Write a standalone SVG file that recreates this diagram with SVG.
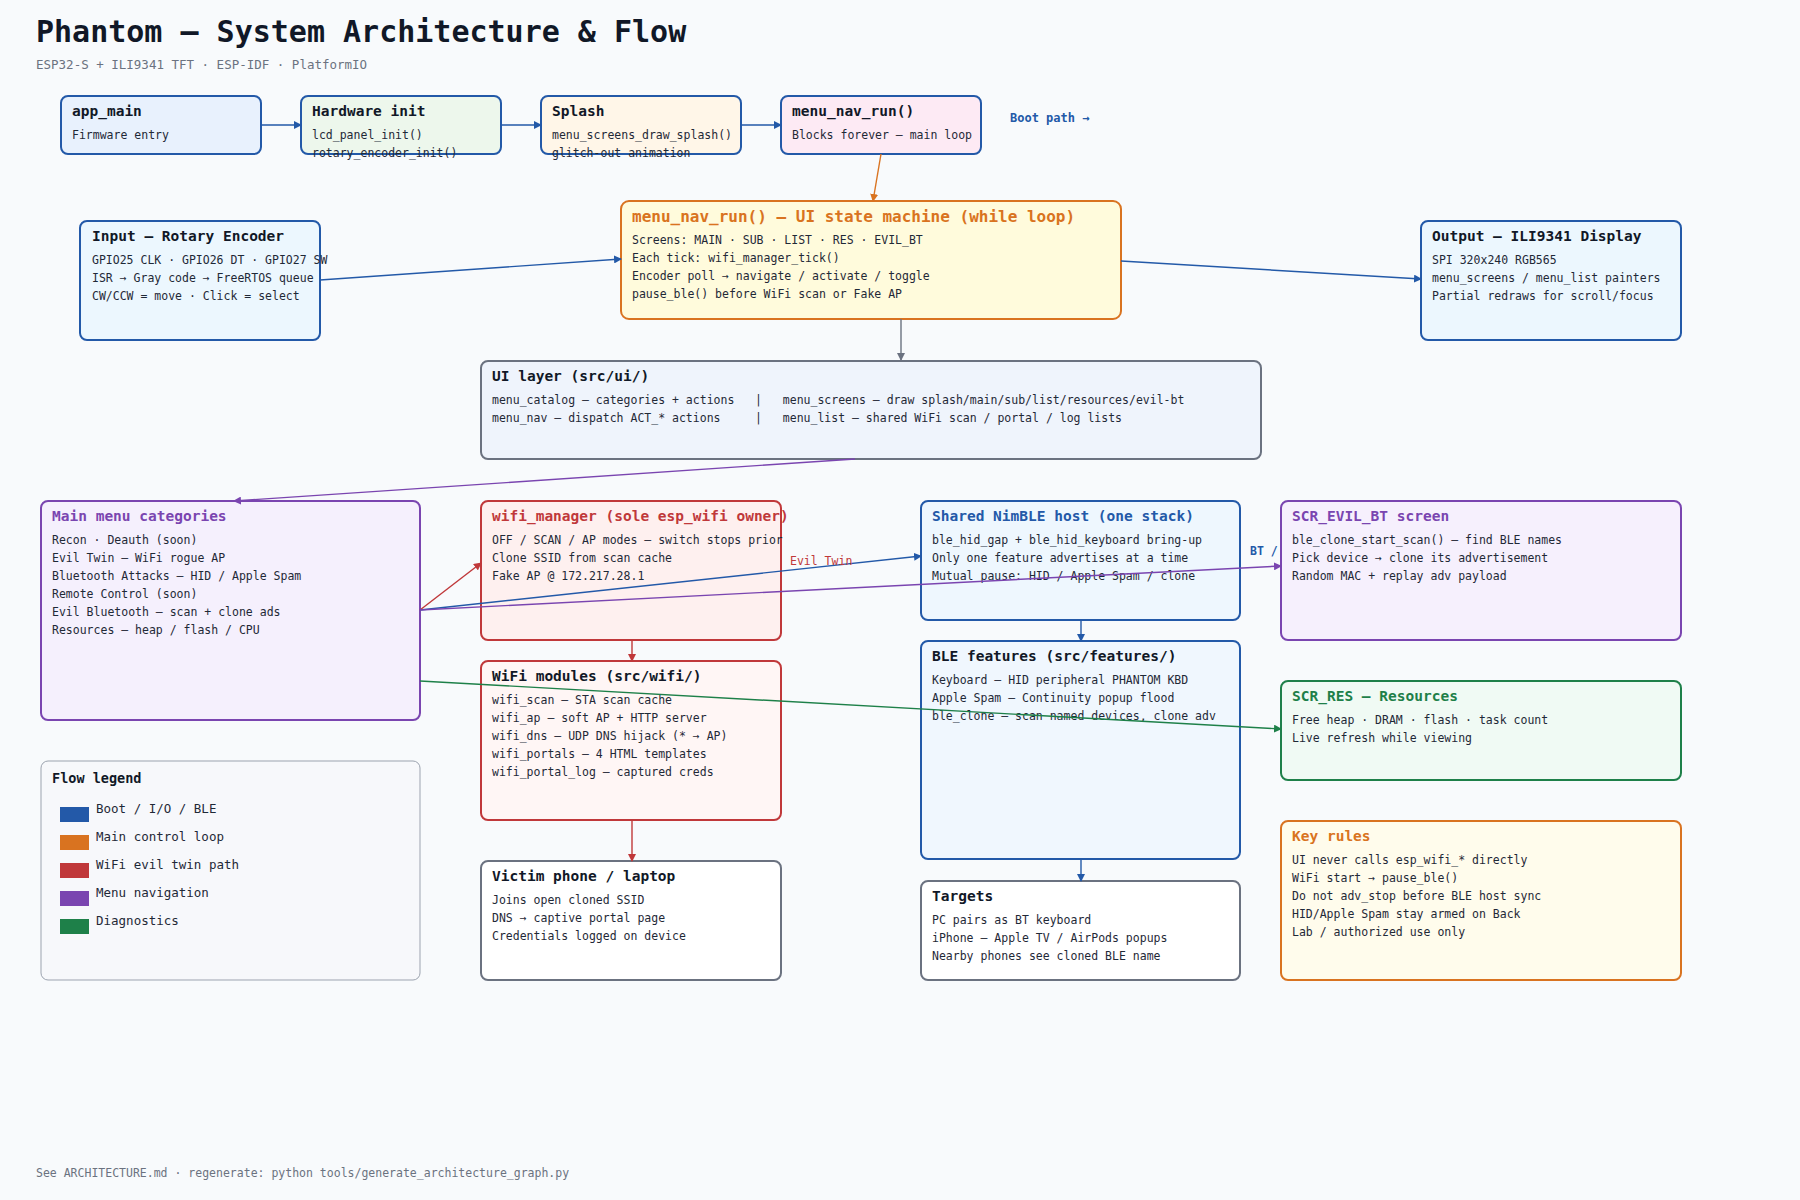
<svg xmlns="http://www.w3.org/2000/svg" width="1800" height="1200" viewBox="0 0 1800 1200">
<defs>
<style>
text{font-family:"DejaVu Sans Mono","Liberation Mono",monospace;fill:#1f2937}
.t{font-size:14.5px;font-weight:bold;fill:#111827}
.b{font-size:11.5px;fill:#1f2937}
.box{stroke-width:2}
.c{fill:none;stroke-width:1.4}
</style>
<marker id="ab" markerWidth="8" markerHeight="8" refX="7" refY="4" orient="auto" markerUnits="userSpaceOnUse"><path d="M0,0 L8,4 L0,8 z" fill="#2359a8"/></marker>
<marker id="ao" markerWidth="8" markerHeight="8" refX="7" refY="4" orient="auto" markerUnits="userSpaceOnUse"><path d="M0,0 L8,4 L0,8 z" fill="#d97320"/></marker>
<marker id="ar" markerWidth="8" markerHeight="8" refX="7" refY="4" orient="auto" markerUnits="userSpaceOnUse"><path d="M0,0 L8,4 L0,8 z" fill="#c0383a"/></marker>
<marker id="ap" markerWidth="8" markerHeight="8" refX="7" refY="4" orient="auto" markerUnits="userSpaceOnUse"><path d="M0,0 L8,4 L0,8 z" fill="#7a45b0"/></marker>
<marker id="ag" markerWidth="8" markerHeight="8" refX="7" refY="4" orient="auto" markerUnits="userSpaceOnUse"><path d="M0,0 L8,4 L0,8 z" fill="#1e8049"/></marker>
<marker id="ay" markerWidth="8" markerHeight="8" refX="7" refY="4" orient="auto" markerUnits="userSpaceOnUse"><path d="M0,0 L8,4 L0,8 z" fill="#6b7280"/></marker>
</defs>
<rect width="1800" height="1200" fill="#f8fafc"/>
<text x="36" y="42" style="font-size:30px;font-weight:bold;fill:#111827">Phantom — System Architecture &amp; Flow</text>
<text x="36" y="69" style="font-size:12.5px;fill:#6b7280">ESP32-S + ILI9341 TFT · ESP-IDF · PlatformIO</text>

<g id="app_main"><rect class="box" x="61" y="96" width="200" height="58" rx="7" fill="#e8f1fd" stroke="#2359a8"/>
<text class="t" x="72" y="116">app_main</text><text class="b" x="72" y="139">Firmware entry</text></g>
<g id="hw_init"><rect class="box" x="301" y="96" width="200" height="58" rx="7" fill="#edf7ec" stroke="#2359a8"/>
<text class="t" x="312" y="116">Hardware init</text><text class="b" x="312" y="139">lcd_panel_init()</text><text class="b" x="312" y="157">rotary_encoder_init()</text></g>
<g id="splash"><rect class="box" x="541" y="96" width="200" height="58" rx="7" fill="#fff6e8" stroke="#2359a8"/>
<text class="t" x="552" y="116">Splash</text><text class="b" x="552" y="139">menu_screens_draw_splash()</text><text class="b" x="552" y="157">glitch-out animation</text></g>
<g id="menu_nav_run"><rect class="box" x="781" y="96" width="200" height="58" rx="7" fill="#fdeaf4" stroke="#2359a8"/>
<text class="t" x="792" y="116">menu_nav_run()</text><text class="b" x="792" y="139">Blocks forever — main loop</text></g>

<g id="state_machine"><rect class="box" x="621" y="201" width="500" height="118" rx="8" fill="#fffbdc" stroke="#d97320"/>
<text x="632" y="222" style="font-size:16px;font-weight:bold;fill:#d97320">menu_nav_run() — UI state machine (while loop)</text>
<text class="b" x="632" y="244">Screens: MAIN · SUB · LIST · RES · EVIL_BT</text>
<text class="b" x="632" y="262">Each tick: wifi_manager_tick()</text>
<text class="b" x="632" y="280">Encoder poll → navigate / activate / toggle</text>
<text class="b" x="632" y="298">pause_ble() before WiFi scan or Fake AP</text></g>

<g id="input"><rect class="box" x="80" y="221" width="240" height="119" rx="7" fill="#ecf7fe" stroke="#2359a8"/>
<text class="t" x="92" y="241">Input — Rotary Encoder</text>
<text class="b" x="92" y="264">GPIO25 CLK · GPIO26 DT · GPIO27 SW</text>
<text class="b" x="92" y="282">ISR → Gray code → FreeRTOS queue</text>
<text class="b" x="92" y="300">CW/CCW = move · Click = select</text></g>

<g id="output"><rect class="box" x="1421" y="221" width="260" height="119" rx="7" fill="#ecf7fe" stroke="#2359a8"/>
<text class="t" x="1432" y="241">Output — ILI9341 Display</text>
<text class="b" x="1432" y="264">SPI 320x240 RGB565</text>
<text class="b" x="1432" y="282">menu_screens / menu_list painters</text>
<text class="b" x="1432" y="300">Partial redraws for scroll/focus</text></g>

<g id="ui_layer"><rect class="box" x="481" y="361" width="780" height="98" rx="7" fill="#eff4fc" stroke="#6b7280"/>
<text class="t" x="492" y="381">UI layer (src/ui/)</text>
<text class="b" x="492" y="404" xml:space="preserve">menu_catalog — categories + actions   |   menu_screens — draw splash/main/sub/list/resources/evil-bt</text>
<text class="b" x="492" y="422" xml:space="preserve">menu_nav — dispatch ACT_* actions     |   menu_list — shared WiFi scan / portal / log lists</text></g>

<g id="main_menu"><rect class="box" x="41" y="501" width="379" height="219" rx="7" fill="#f5f0fd" stroke="#7a45b0"/>
<text class="t" x="52" y="521" style="fill:#7a45b0">Main menu categories</text>
<text class="b" x="52" y="544">Recon · Deauth (soon)</text>
<text class="b" x="52" y="562">Evil Twin — WiFi rogue AP</text>
<text class="b" x="52" y="580">Bluetooth Attacks — HID / Apple Spam</text>
<text class="b" x="52" y="598">Remote Control (soon)</text>
<text class="b" x="52" y="616">Evil Bluetooth — scan + clone ads</text>
<text class="b" x="52" y="634">Resources — heap / flash / CPU</text></g>

<g id="wifi_manager"><rect class="box" x="481" y="501" width="300" height="139" rx="7" fill="#fef0ef" stroke="#c0383a"/>
<text class="t" x="492" y="521" style="fill:#c0383a">wifi_manager (sole esp_wifi owner)</text>
<text class="b" x="492" y="544">OFF / SCAN / AP modes — switch stops prior</text>
<text class="b" x="492" y="562">Clone SSID from scan cache</text>
<text class="b" x="492" y="580">Fake AP @ 172.217.28.1</text></g>

<g id="nimble"><rect class="box" x="921" y="501" width="319" height="119" rx="7" fill="#eef7fe" stroke="#2359a8"/>
<text class="t" x="932" y="521" style="fill:#2359a8">Shared NimBLE host (one stack)</text>
<text class="b" x="932" y="544">ble_hid_gap + ble_hid_keyboard bring-up</text>
<text class="b" x="932" y="562">Only one feature advertises at a time</text>
<text class="b" x="932" y="580">Mutual pause: HID / Apple Spam / clone</text></g>

<g id="scr_evil_bt"><rect class="box" x="1281" y="501" width="400" height="139" rx="7" fill="#f6f0fd" stroke="#7a45b0"/>
<text class="t" x="1292" y="521" style="fill:#7a45b0">SCR_EVIL_BT screen</text>
<text class="b" x="1292" y="544">ble_clone_start_scan() — find BLE names</text>
<text class="b" x="1292" y="562">Pick device → clone its advertisement</text>
<text class="b" x="1292" y="580">Random MAC + replay adv payload</text></g>

<g id="wifi_modules"><rect class="box" x="481" y="661" width="300" height="159" rx="7" fill="#fff6f5" stroke="#c0383a"/>
<text class="t" x="492" y="681">WiFi modules (src/wifi/)</text>
<text class="b" x="492" y="704">wifi_scan — STA scan cache</text>
<text class="b" x="492" y="722">wifi_ap — soft AP + HTTP server</text>
<text class="b" x="492" y="740">wifi_dns — UDP DNS hijack (* → AP)</text>
<text class="b" x="492" y="758">wifi_portals — 4 HTML templates</text>
<text class="b" x="492" y="776">wifi_portal_log — captured creds</text></g>

<g id="ble_features"><rect class="box" x="921" y="641" width="319" height="218" rx="7" fill="#f0f7fe" stroke="#2359a8"/>
<text class="t" x="932" y="661">BLE features (src/features/)</text>
<text class="b" x="932" y="684">Keyboard — HID peripheral PHANTOM KBD</text>
<text class="b" x="932" y="702">Apple Spam — Continuity popup flood</text>
<text class="b" x="932" y="720">ble_clone — scan named devices, clone adv</text></g>

<g id="scr_res"><rect class="box" x="1281" y="681" width="400" height="99" rx="7" fill="#f0faf4" stroke="#1e8049"/>
<text class="t" x="1292" y="701" style="fill:#1e8049">SCR_RES — Resources</text>
<text class="b" x="1292" y="724">Free heap · DRAM · flash · task count</text>
<text class="b" x="1292" y="742">Live refresh while viewing</text></g>

<g id="legend"><rect x="41" y="761" width="379" height="219" rx="7" fill="#f7f8fb" stroke="#9ca3af" stroke-width="1"/>
<text class="t" x="52" y="783" style="font-size:13.5px">Flow legend</text>
<rect x="60" y="807" width="29" height="15" fill="#2359a8"/><text class="b" x="96" y="813" style="font-size:12.5px">Boot / I/O / BLE</text>
<rect x="60" y="835" width="29" height="15" fill="#d97320"/><text class="b" x="96" y="841" style="font-size:12.5px">Main control loop</text>
<rect x="60" y="863" width="29" height="15" fill="#c0383a"/><text class="b" x="96" y="869" style="font-size:12.5px">WiFi evil twin path</text>
<rect x="60" y="891" width="29" height="15" fill="#7a45b0"/><text class="b" x="96" y="897" style="font-size:12.5px">Menu navigation</text>
<rect x="60" y="919" width="29" height="15" fill="#1e8049"/><text class="b" x="96" y="925" style="font-size:12.5px">Diagnostics</text></g>

<g id="victim"><rect class="box" x="481" y="861" width="300" height="119" rx="7" fill="#ffffff" stroke="#6b7280"/>
<text class="t" x="492" y="881">Victim phone / laptop</text>
<text class="b" x="492" y="904">Joins open cloned SSID</text>
<text class="b" x="492" y="922">DNS → captive portal page</text>
<text class="b" x="492" y="940">Credentials logged on device</text></g>

<g id="targets"><rect class="box" x="921" y="881" width="319" height="99" rx="7" fill="#ffffff" stroke="#6b7280"/>
<text class="t" x="932" y="901">Targets</text>
<text class="b" x="932" y="924">PC pairs as BT keyboard</text>
<text class="b" x="932" y="942">iPhone — Apple TV / AirPods popups</text>
<text class="b" x="932" y="960">Nearby phones see cloned BLE name</text></g>

<g id="key_rules"><rect class="box" x="1281" y="821" width="400" height="159" rx="7" fill="#fffcec" stroke="#d97320"/>
<text class="t" x="1292" y="841" style="fill:#d97320">Key rules</text>
<text class="b" x="1292" y="864">UI never calls esp_wifi_* directly</text>
<text class="b" x="1292" y="882">WiFi start → pause_ble()</text>
<text class="b" x="1292" y="900">Do not adv_stop before BLE host sync</text>
<text class="b" x="1292" y="918">HID/Apple Spam stay armed on Back</text>
<text class="b" x="1292" y="936">Lab / authorized use only</text></g>

<g id="connectors">
<line class="c" x1="261" y1="125" x2="301" y2="125" stroke="#2359a8" stroke-width="2" marker-end="url(#ab)"/>
<line class="c" x1="501" y1="125" x2="541" y2="125" stroke="#2359a8" stroke-width="2" marker-end="url(#ab)"/>
<line class="c" x1="741" y1="125" x2="781" y2="125" stroke="#2359a8" stroke-width="2" marker-end="url(#ab)"/>
<line class="c" x1="881" y1="154" x2="873" y2="201" stroke="#d97320" stroke-width="2" marker-end="url(#ao)"/>
<line class="c" x1="320" y1="280" x2="621" y2="259" stroke="#2359a8" marker-end="url(#ab)"/>
<line class="c" x1="1121" y1="261" x2="1421" y2="279" stroke="#2359a8" marker-end="url(#ab)"/>
<line class="c" x1="901" y1="319" x2="901" y2="360" stroke="#6b7280" marker-end="url(#ay)"/>
<line class="c" x1="855" y1="459" x2="234" y2="501" stroke="#7a45b0" marker-end="url(#ap)"/>
<line class="c" x1="420" y1="610" x2="481" y2="563" stroke="#c0383a" marker-end="url(#ar)"/>
<line class="c" x1="420" y1="610" x2="921" y2="556" stroke="#2359a8" marker-end="url(#ab)"/>
<line class="c" x1="420" y1="610" x2="1281" y2="566" stroke="#7a45b0" marker-end="url(#ap)"/>
<line class="c" x1="420" y1="681" x2="1281" y2="729" stroke="#1e8049" marker-end="url(#ag)"/>
<line class="c" x1="632" y1="640" x2="632" y2="661" stroke="#c0383a" marker-end="url(#ar)"/>
<line class="c" x1="632" y1="820" x2="632" y2="861" stroke="#c0383a" marker-end="url(#ar)"/>
<line class="c" x1="1081" y1="620" x2="1081" y2="641" stroke="#2359a8" marker-end="url(#ab)"/>
<line class="c" x1="1081" y1="859" x2="1081" y2="881" stroke="#2359a8" marker-end="url(#ab)"/>
<text x="790" y="565" style="font-size:11.5px;fill:#c0383a">Evil Twin</text>
<text x="1250" y="555" style="font-size:11.5px;font-weight:bold;fill:#2359a8">BT /</text>
<text x="1010" y="122" style="font-size:12px;font-weight:bold;fill:#2359a8">Boot path →</text>
</g>

<text x="36" y="1177" style="font-size:11.5px;fill:#6b7280">See ARCHITECTURE.md · regenerate: python tools/generate_architecture_graph.py</text>
</svg>
